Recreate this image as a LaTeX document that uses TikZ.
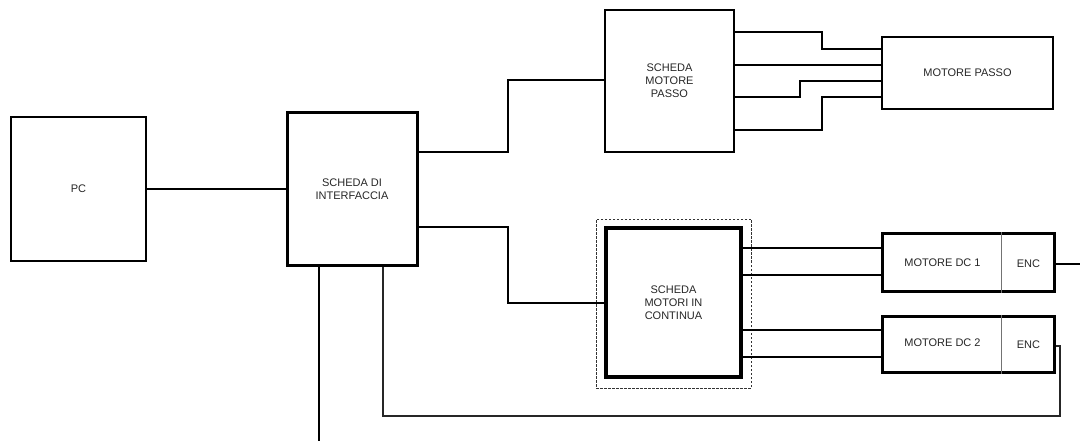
\documentclass[tikz,border=0pt]{standalone}
\usepackage{fontspec}
\setmainfont{Liberation Sans}
\begin{document}
\begin{tikzpicture}[x=1pt,y=-1pt,
  box/.style={draw=black,rectangle,inner sep=0pt,line width=#1,align=center,
    font=\fontsize{11}{13}\selectfont,text=black!85},
  box/.default=2.6pt,
  txt/.style={inner sep=0pt,align=center,font=\fontsize{11}{13}\selectfont,text=black!85},
  wire/.style={draw=black,line width=1.6pt},
  thinwire/.style={draw=black!85,line width=1.4pt},
  divider/.style={draw=black!55,line width=0.9pt},
  dashbox/.style={draw=black!80,dashed,line width=0.7pt,dash pattern=on 2.5pt off 1.5pt}]
\useasboundingbox (0,0) rectangle (1080,441);
% nodes
\node[box=2pt,minimum width=135pt,minimum height=144pt] (pc) at (78.5,189) {PC};
\node[box=3pt,minimum width=130pt,minimum height=152pt] (ifc) at (352,189) {SCHEDA DI\\INTERFACCIA};
\node[box=2.8pt,minimum width=129pt,minimum height=142pt] (sp) at (669.5,81) {SCHEDA\\MOTORE\\PASSO};
\node[box=2.8pt,minimum width=171pt,minimum height=72pt] (mp) at (967.5,73) {MOTORE PASSO};
\node[dashbox,minimum width=155pt,minimum height=169pt] (dcout) at (673.5,303.5) {};
\node[box=3.4pt,minimum width=135pt,minimum height=149pt] (dc) at (673.5,302.5) {SCHEDA\\MOTORI IN\\CONTINUA};
\node[box=3pt,minimum width=172pt,minimum height=57pt] (dc1) at (968,262.5) {};
\node[txt] (dc1t) at (942.5,263) {MOTORE DC 1};
\node[txt] (enc1) at (1028.5,264) {ENC};
\node[box=3pt,minimum width=172pt,minimum height=56pt] (dc2) at (968,344) {};
\node[txt] (dc2t) at (942.5,343) {MOTORE DC 2};
\node[txt] (enc2) at (1028.5,345) {ENC};
\draw[divider] ([xshift=121pt]dc1.north west) -- ([xshift=121pt]dc1.south west);
\draw[divider] ([xshift=121pt]dc2.north west) -- ([xshift=121pt]dc2.south west);
\coordinate (encout) at (1080,264);
\coordinate (bottom) at (319,441);
% connectors
\draw[wire] (pc.east) -- (ifc.west |- pc.east);
\draw[wire] (ifc.east |- 0,152) -| (508,80) -- (sp.west |- 0,80);
\draw[wire] (ifc.east |- 0,227) -| (508,303) -- (dc.west |- 0,303);
\draw[wire] (sp.east |- 0,32) -| (822,49) -- (mp.west |- 0,49);
\draw[wire] (sp.east |- 0,65) -- (mp.west |- 0,65);
\draw[wire] (sp.east |- 0,97) -| (800,81) -- (mp.west |- 0,81);
\draw[wire] (sp.east |- 0,130) -| (822,97) -- (mp.west |- 0,97);
\draw[wire] (dc.east |- 0,248) -- (dc1.west |- 0,248);
\draw[wire] (dc.east |- 0,275) -- (dc1.west |- 0,275);
\draw[wire] (dc.east |- 0,330) -- (dc2.west |- 0,330);
\draw[wire] (dc.east |- 0,357) -- (dc2.west |- 0,357);
\draw[wire] (dc1.east |- encout) -- (encout);
\draw[wire] (ifc.south -| bottom) -- (bottom);
\draw[thinwire] (dc2.east |- 0,346) -- (1060,346) -- (1060,416) -| (ifc.south -| 383,0);
\end{tikzpicture}
\end{document}
